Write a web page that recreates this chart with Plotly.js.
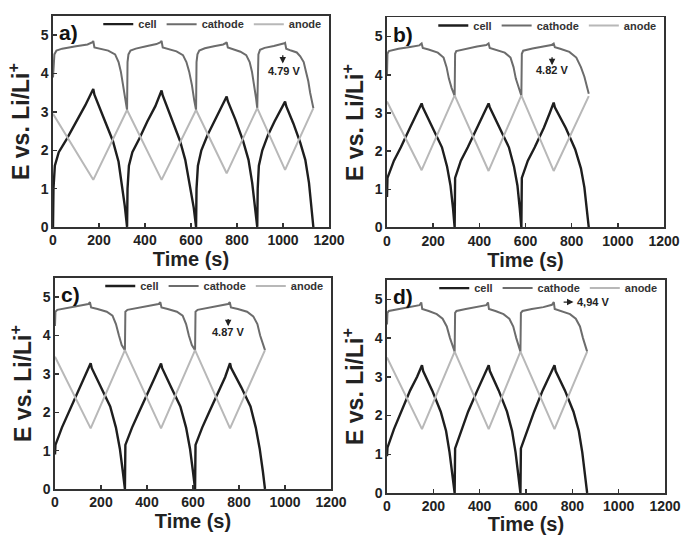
<!DOCTYPE html>
<html>
<head>
<meta charset="utf-8">
<script src="https://cdn.plot.ly/plotly-3.0.1.min.js"></script>
<style>html,body{margin:0;padding:0;background:#fff;}#chart{width:684px;height:535px;}</style>
</head>
<body>
<div id="chart"></div>
<script>
// ---------- Panel a ----------
const timeCellA = [0,2,8,25,60,100,140,175,180,220,260,285,300,312,322,
  324,330,345,375,410,445,472,477,515,552,575,595,612,622,
  624,630,645,672,705,735,755,760,793,826,850,866,880,888,
  890,895,910,935,963,990,1009,1014,1045,1075,1097,1113,1125,1132];
const cellA = [0,1.0,1.6,1.95,2.3,2.73,3.17,3.6,3.45,2.85,2.25,1.7,1.1,0.55,0,
  1.0,1.6,1.95,2.3,2.75,3.15,3.56,3.43,2.85,2.25,1.75,1.1,0.5,0,
  1.0,1.6,2.0,2.4,2.8,3.15,3.4,3.28,2.8,2.25,1.75,1.15,0.5,0,
  1.0,1.6,2.0,2.4,2.75,3.05,3.27,3.15,2.7,2.2,1.75,1.15,0.5,0];
const timeCathA = [0,2,6,15,40,100,150,172,175,180,200,240,270,285,295,305,315,322,
  324,328,337,360,410,450,468,472,477,497,537,565,580,592,604,614,622,
  624,628,636,660,700,740,752,755,760,780,815,840,855,865,875,883,888,
  890,893,900,920,960,995,1006,1009,1014,1035,1060,1075,1090,1100,1110,1118,1125,1132];
const cathA = [3.9,4.3,4.5,4.6,4.65,4.71,4.76,4.82,4.85,4.68,4.66,4.6,4.5,4.3,4.05,3.7,3.3,3.05,
  4.3,4.5,4.6,4.65,4.72,4.77,4.82,4.85,4.68,4.65,4.58,4.48,4.3,4.05,3.7,3.3,3.05,
  4.3,4.5,4.6,4.66,4.71,4.76,4.8,4.82,4.68,4.64,4.57,4.48,4.3,4.05,3.7,3.35,3.1,
  4.3,4.5,4.62,4.67,4.72,4.76,4.79,4.8,4.65,4.6,4.55,4.45,4.3,4.05,3.8,3.5,3.3,3.1];
const timeAnodeA = [0,175,322,472,622,755,888,1009,1132];
const anodeA = [2.95,1.23,3.05,1.23,3.05,1.4,3.1,1.49,3.1];

// ---------- Panel b ----------
const timeCellB = [0,2,30,60,100,130,150,155,200,238,260,275,286,293,
  295,320,350,390,420,440,445,490,528,550,565,575,582,
  584,610,640,680,705,722,727,775,815,840,855,866,874];
const cellB = [0.8,1.3,1.75,2.1,2.62,3.0,3.25,3.15,2.6,2.1,1.6,1.1,0.5,0,
  1.3,1.75,2.1,2.62,3.0,3.25,3.15,2.6,2.1,1.6,1.1,0.5,0,
  1.3,1.75,2.1,2.62,3.0,3.27,3.15,2.6,2.05,1.55,1.05,0.5,0];
const timeCathB = [0,2,8,50,100,140,150,155,180,220,245,258,268,280,293,
  295,300,340,390,430,440,445,470,510,535,548,558,570,582,
  584,590,630,680,712,722,727,750,790,820,840,855,866,874];
const cathB = [4.0,4.55,4.62,4.68,4.73,4.77,4.82,4.7,4.66,4.58,4.45,4.2,3.9,3.65,3.45,
  4.55,4.62,4.68,4.74,4.78,4.82,4.7,4.66,4.58,4.45,4.2,3.9,3.65,3.45,
  4.55,4.63,4.69,4.74,4.78,4.82,4.72,4.68,4.6,4.45,4.2,3.95,3.7,3.5];
const timeAnodeB = [0,150,293,440,582,722,874];
const anodeB = [3.3,1.5,3.46,1.48,3.46,1.48,3.44];

// ---------- Panel c ----------
const timeCellC = [0,2,30,60,100,130,155,160,200,240,265,282,295,304,
  306,335,365,405,435,461,466,505,545,570,587,600,609,
  611,640,670,710,740,761,766,810,850,873,890,904,913];
const cellC = [0.9,1.15,1.6,2.0,2.5,2.92,3.28,3.15,2.65,2.15,1.6,1.05,0.45,0,
  1.15,1.6,2.0,2.5,2.92,3.27,3.15,2.65,2.15,1.6,1.05,0.45,0,
  1.15,1.6,2.0,2.5,2.92,3.28,3.15,2.65,2.15,1.6,1.05,0.45,0];
const timeCathC = [0,2,10,50,100,145,152,157,185,225,250,265,278,290,304,
  306,315,355,405,450,458,463,490,530,555,570,582,595,609,
  611,620,660,710,752,760,765,795,835,862,880,892,900,906,913];
const cathC = [4.25,4.62,4.67,4.72,4.77,4.82,4.87,4.73,4.69,4.62,4.52,4.3,4.0,3.75,3.62,
  4.62,4.67,4.72,4.78,4.82,4.87,4.73,4.69,4.62,4.52,4.3,4.0,3.75,3.62,
  4.62,4.67,4.72,4.78,4.82,4.87,4.73,4.69,4.62,4.5,4.3,4.0,3.85,3.8,3.62];
const timeAnodeC = [0,155,304,461,609,761,913];
const anodeC = [3.45,1.58,3.62,1.58,3.62,1.58,3.62];

// ---------- Panel d ----------
const timeCellD = [0,2,30,60,100,130,151,156,195,232,255,270,283,292,
  294,320,350,390,418,439,444,482,518,540,555,568,576,
  578,605,635,672,700,723,728,768,805,828,843,856,864];
const cellD = [0.95,1.17,1.65,2.1,2.65,3.0,3.3,3.15,2.65,2.1,1.6,1.05,0.45,0,
  1.15,1.6,2.1,2.65,3.0,3.3,3.15,2.65,2.1,1.6,1.05,0.45,0,
  1.15,1.6,2.1,2.65,3.0,3.3,3.15,2.65,2.1,1.6,1.05,0.45,0];
const timeCathD = [0,2,8,50,100,140,148,152,180,215,240,258,272,282,292,
  294,300,340,390,428,436,440,468,503,528,545,558,567,576,
  578,585,625,675,712,720,724,752,790,815,833,846,855,864];
const cathD = [4.35,4.65,4.7,4.75,4.8,4.85,4.92,4.75,4.7,4.62,4.5,4.3,4.0,3.8,3.65,
  4.65,4.7,4.75,4.8,4.85,4.92,4.75,4.7,4.62,4.5,4.3,4.0,3.8,3.65,
  4.65,4.7,4.75,4.8,4.86,4.93,4.75,4.7,4.62,4.5,4.3,4.0,3.8,3.65];
const timeAnodeD = [0,151,292,439,576,723,864];
const anodeD = [3.5,1.65,3.65,1.65,3.65,1.65,3.65];

const seriesNames = ["cell","cathode","anode"];
const panelLabels = ["a)","b)","c)","d)"];
const voltLabels = ["4.79 V","4.82 V","4.87 V","4,94 V"];
const xTickVals = [0,200,400,600,800,1000,1200];
const yTickVals = [0,1,2,3,4,5];

const colors = {cell:"#1e1e1e", cathode:"#6c6c6c", anode:"#b8b8b8"};
const widths = {cell:2.4, cathode:2, anode:2};
const FONT = "Liberation Sans, Arial, sans-serif";

const panels = [
  {cell:[timeCellA,cellA], cathode:[timeCathA,cathA], anode:[timeAnodeA,anodeA]},
  {cell:[timeCellB,cellB], cathode:[timeCathB,cathB], anode:[timeAnodeB,anodeB]},
  {cell:[timeCellC,cellC], cathode:[timeCathC,cathC], anode:[timeAnodeC,anodeC]},
  {cell:[timeCellD,cellD], cathode:[timeCathD,cathD], anode:[timeAnodeD,anodeD]}
];

const xDomains = [[0.0775,0.481],[0.5658,0.9708],[0.0804,0.4839],[0.5658,0.9722]];
const yDomains = [[0.5757,0.970],[0.5748,0.9673],[0.086,0.4804],[0.0785,0.4766]];

const traces = [];
const layout = {
  width:684, height:535, margin:{l:0,r:0,t:0,b:0},
  paper_bgcolor:"#fff", plot_bgcolor:"#fff",
  showlegend:true,
  font:{family:FONT, color:"#222", weight:"bold"},
  annotations:[]
};

panels.forEach((p,i)=>{
  const n = i===0 ? "" : String(i+1);
  const xa = "x"+n, ya = "y"+n;
  const lg = i===0 ? "legend" : "legend"+(i+1);
  seriesNames.forEach(s=>{
    traces.push({
      type:"scatter", mode:"lines", name:s,
      x:p[s][0], y:p[s][1], xaxis:xa, yaxis:ya, legend:lg,
      line:{color:colors[s], width:widths[s]},
      hoverinfo:"skip"
    });
  });
  const common = {
    showline:true, mirror:true, linecolor:"#333", linewidth:1.6,
    ticks:"inside", ticklen:4, tickwidth:1.5, tickcolor:"#333",
    showgrid:false, zeroline:false, automargin:false,
    tickfont:{family:FONT, size:14, color:"#222", weight:"bold"}
  };
  layout["xaxis"+n] = Object.assign({}, common, {
    domain:xDomains[i], anchor:ya, range:[0,1200],
    tickvals:xTickVals, ticktext:xTickVals.map(String),
    title:{text:"Time (s)", standoff:0, font:{family:FONT, size:20, color:"#222", weight:"bold"}}
  });
  layout["yaxis"+n] = Object.assign({}, common, {
    domain:yDomains[i], anchor:xa, range:[0,5.5],
    tickvals:yTickVals, ticktext:yTickVals.map(String),
    title:{text:"E vs. Li/Li<sup>+</sup>", standoff:5, font:{family:FONT, size:23, color:"#222", weight:"bold"}}
  });
  layout[lg] = {
    orientation:"h", x:xDomains[i][1]-0.004, xanchor:"right",
    y:yDomains[i][1]+0.012, yanchor:"top",
    bgcolor:"rgba(0,0,0,0)", borderwidth:0,
    font:{family:FONT, size:11, color:"#333", weight:"bold"},
    itemwidth:30, tracegroupgap:0
  };
  layout.annotations.push({
    xref:xa+" domain", yref:ya+" domain", x:0.015, y:0.985,
    xanchor:"left", yanchor:"top", showarrow:false,
    text:panelLabels[i], font:{family:FONT, size:21, color:"#111", weight:"bold"}
  });
});

// Peak voltage markers
const arrowSpecs = [
  {xa:"x", ya:"y", tx:1004, ty:4.08, ax:999, ay:4.52, hx:999, hy:4.26},
  {xa:"x2", ya:"y2", tx:715, ty:4.12, ax:715, ay:4.5, hx:715, hy:4.25},
  {xa:"x3", ya:"y3", tx:754, ty:4.09, ax:753, ay:4.47, hx:753, hy:4.24}
];
arrowSpecs.forEach((a,i)=>{
  layout.annotations.push({xref:a.xa, yref:a.ya, x:a.hx, y:a.hy, axref:a.xa, ayref:a.ya, ax:a.ax, ay:a.ay,
    text:"", showarrow:true, arrowhead:2, arrowsize:1, arrowwidth:1.3, arrowcolor:"#222"});
  layout.annotations.push({xref:a.xa, yref:a.ya, x:a.tx, y:a.ty, showarrow:false,
    text:voltLabels[i], font:{family:FONT, size:11, color:"#222", weight:"bold"}});
});
layout.annotations.push({xref:"x4", yref:"y4", x:805, y:4.93, axref:"x4", ayref:"y4", ax:756, ay:4.93,
  text:"", showarrow:true, arrowhead:2, arrowsize:1, arrowwidth:1.3, arrowcolor:"#222"});
layout.annotations.push({xref:"x4", yref:"y4", x:810, y:4.93, xanchor:"left", showarrow:false,
  text:voltLabels[3], font:{family:FONT, size:11, color:"#222", weight:"bold"}});

Plotly.newPlot("chart", traces, layout, {displayModeBar:false, staticPlot:true});
</script>
</body>
</html>
